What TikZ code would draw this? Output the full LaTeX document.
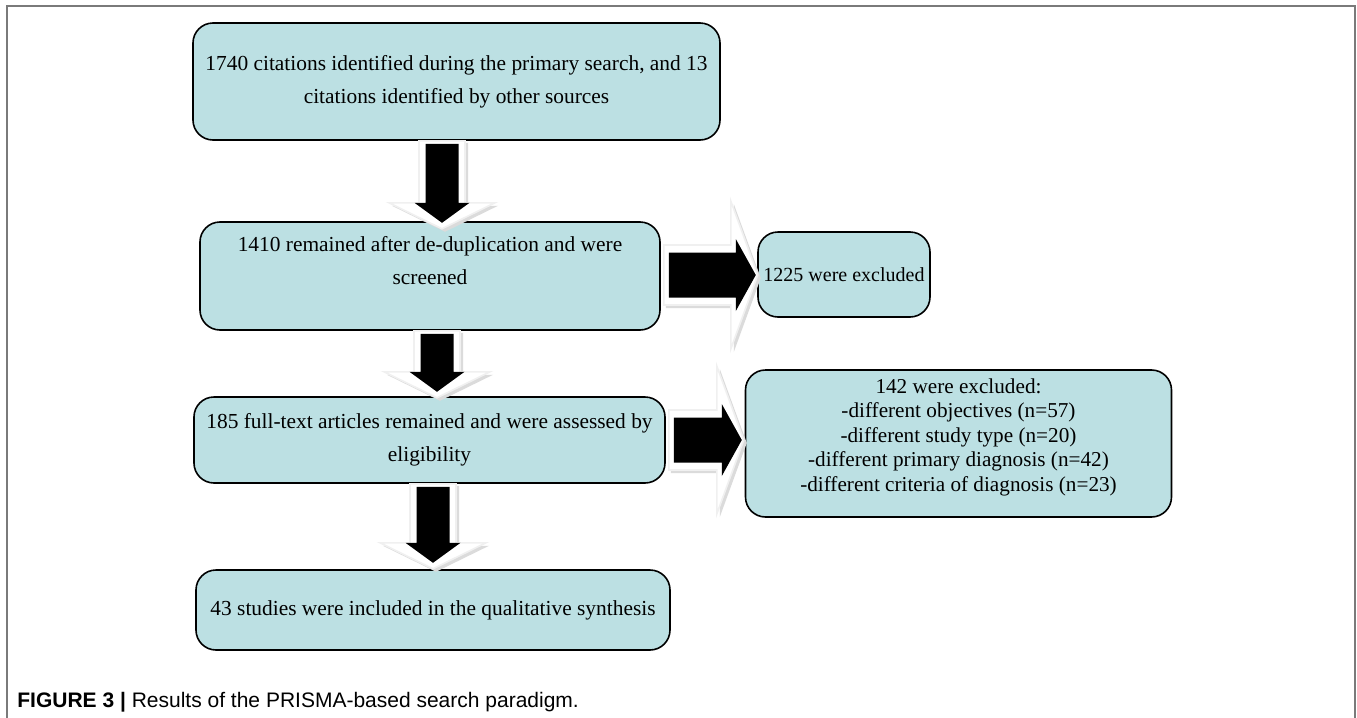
\documentclass[tikz,border=0pt]{standalone}
\usepackage{fontspec}
\setmainfont{Liberation Serif}
\newfontfamily\capfont{Liberation Sans}
\usepackage{xcolor}
\definecolor{boxfill}{HTML}{BCE0E3}
\definecolor{framegray}{HTML}{7A7A7A}
\usepackage{tikz}
\usetikzlibrary{positioning,calc}

\begin{document}
\begin{tikzpicture}[x=0.5pt, y=-0.5pt,
    box/.style={draw=black, line width=0.8pt, fill=boxfill, rounded corners=10pt,
                align=center, inner sep=0pt, font=\fontsize{10.7}{16.5}\selectfont},
    listbox/.style={box, font=\fontsize{10.6}{12.3}\selectfont},
    arrowshade/.style={fill=gray!28},
    backarrow/.style={fill=white, draw=gray!12, line width=0.8pt},
    frontarrow/.style={fill=black},
    pics/downarrow/.style={code={
      \fill[arrowshade] (-20,2) -- (26,2) -- (26,#1-23) -- (56,#1-23) -- (3,#1+3)
        -- (-50,#1-23) -- (-20,#1-23) -- cycle;
      \filldraw[backarrow] (-23,0) -- (23,0) -- (23,#1-26) -- (53,#1-26) -- (0,#1)
        -- (-53,#1-26) -- (-23,#1-26) -- cycle;
      \fill[frontarrow] (-16.5,3) -- (16.5,3) -- (16.5,#1-26) -- (27.5,#1-26)
        -- (0,#1-6) -- (-27.5,#1-26) -- (-16.5,#1-26) -- cycle;}},
    pics/rightarrow/.style={code={
      \fill[arrowshade] (2,-27) -- (#1-24,-27) -- (#1-24,-71) -- (#1+3,3) -- (#1-24,77)
        -- (#1-24,33) -- (2,33) -- cycle;
      \filldraw[backarrow] (0,-30) -- (#1-27,-30) -- (#1-27,-74) -- (#1,0) -- (#1-27,74)
        -- (#1-27,30) -- (0,30) -- cycle;
      \fill[frontarrow] (5,-22.5) -- (#1-22,-22.5) -- (#1-22,-36) -- (#1-2,0) -- (#1-22,36)
        -- (#1-22,22.5) -- (5,22.5) -- cycle;}}]
  \useasboundingbox (0,0) rectangle (1357,718);
  % outer frame
  \draw[framegray, line width=1pt] (7,718) -- (7,6) -- (1355,6) -- (1355,718);

  % flow boxes
  \node[box, minimum width=263.5pt, minimum height=58.5pt] (search) at (456.5,81.5)
    {1740 citations identified during the primary search, and 13\\citations identified by other sources};
  \node[box, minimum width=230pt, minimum height=54pt, text depth=16pt] (dedup) at (430,276)
    {1410 remained after de-duplication and were\\screened};
  \node[box, minimum width=235.5pt, minimum height=43pt] (fulltext) at (429.5,440)
    {185 full-text articles remained and were assessed by\\eligibility};
  \node[box, minimum width=237pt, minimum height=40pt] (included) at (433,610)
    {43 studies were included in the qualitative synthesis};
  \node[box, minimum width=86pt, minimum height=42.5pt, font=\fontsize{10}{12}\selectfont] (excl1) at (844,274.5)
    {1225 were excluded};
  \node[listbox, minimum width=213pt, minimum height=73.5pt, text depth=8.5pt] (excl2) at (958.5,443.5)
    {142 were excluded:\\-different objectives (n=57)\\-different study type (n=20)\\
     -different primary diagnosis (n=42)\\-different criteria of diagnosis (n=23)};

  % block arrows
  \pic at ($(search.south)+(-14.5,0)$) {downarrow=88};
  \pic at ($(dedup.south)+(7,0)$) {downarrow=67};
  \pic at ($(fulltext.south)+(3.5,0)$) {downarrow=85};
  \pic at ($(dedup.east)+(3,-1)$) {rightarrow=94};
  \pic at ($(fulltext.east)+(3,0)$) {rightarrow=75};

  \node[anchor=west, inner sep=0pt, font=\capfont\fontsize{10.5}{12}\selectfont] (caption) at (17,702)
    {\textbf{FIGURE 3 |} Results of the PRISMA-based search paradigm.};
\end{tikzpicture}
\end{document}
